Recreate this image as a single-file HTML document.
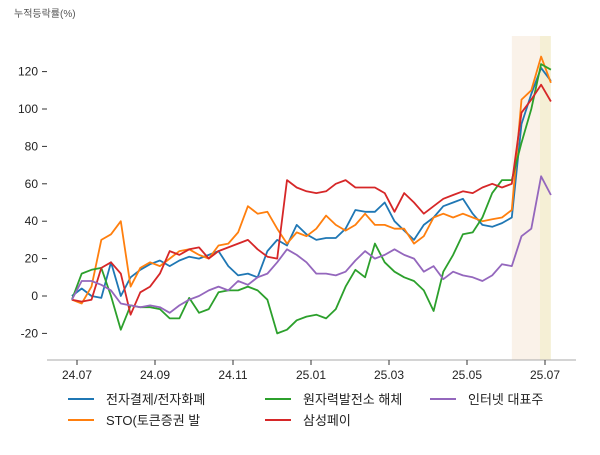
<!DOCTYPE html>
<html><head><meta charset="utf-8"><style>
body{margin:0;background:#fff;}
svg text{font-family:"Liberation Sans","Noto Sans CJK KR",sans-serif;}
</style></head><body>
<svg width="600" height="450" viewBox="0 0 600 450" xmlns="http://www.w3.org/2000/svg">
<text x="14" y="17" font-size="10" fill="#555">누적등락률(%)</text>
<g id="shade"></g>
<g id="axes"></g>
<g id="series"></g>
<g id="legend"></g>
</svg>
<script>
const xTickLabels=["24.07","24.09","24.11","25.01","25.03","25.05","25.07"];
const xTickMonths=[0,2,4,6,8,10,12];
const yTicks=[-20,0,20,40,60,80,100,120];
const seriesNames=["전자결제/전자화폐","STO(토큰증권 발","원자력발전소 해체","삼성페이","인터넷 대표주"];
const seriesColors=["#1f77b4","#ff7f0e","#2ca02c","#d62728","#9467bd"];
const blue=[0,4,0,-1,18,0,10,14,17,19,16,19,21,20,22,24,16,11,12,10,24,30,27,38,33,30,31,31,36,46,45,45,50,40,35,30,38,42,48,50,52,44,38,37,39,42,92,108,122,115];
const orange=[-2,-4,5,30,33,40,5,15,18,16,20,24,25,22,20,27,28,34,48,44,45,36,28,34,32,36,43,38,35,38,44,38,38,36,36,28,32,42,44,42,44,42,40,41,42,46,105,110,128,114];
const green=[-2,12,14,15,0,-18,-5,-6,-6,-7,-12,-12,-1,-9,-7,2,3,3,5,3,-2,-20,-18,-13,-11,-10,-12,-7,5,14,10,28,18,13,10,8,3,-8,13,22,33,34,42,55,62,62,82,100,124,121];
const red=[-2,-3,-2,15,18,12,-10,2,5,12,24,22,25,26,20,24,26,28,30,25,21,20,62,58,56,55,56,60,62,58,58,58,55,45,55,50,44,48,52,54,56,55,58,60,58,60,98,105,113,104];
const purple=[-2,8,8,6,3,-4,-5,-6,-5,-6,-9,-5,-2,0,3,5,3,8,6,10,12,18,25,22,18,12,12,11,13,19,24,20,22,25,22,20,13,16,9,13,11,10,8,11,17,16,32,36,64,54];
const startMonth=-0.13, endMonth=12.15;
const shadeStart=11.15, shadeMid=11.87;

const NS="http://www.w3.org/2000/svg";
const xS=m=>77+m*39;
const yS=v=>296-v*1.87;
function mk(tag,attrs,parent){const e=document.createElementNS(NS,tag);for(const k in attrs)e.setAttribute(k,attrs[k]);parent.appendChild(e);return e;}
const gShade=document.getElementById('shade'),gAx=document.getElementById('axes'),gS=document.getElementById('series'),gL=document.getElementById('legend');

let r=mk('rect',{x:xS(shadeStart),y:36,width:xS(shadeMid)-xS(shadeStart),height:324,fill:'#f9efe4',opacity:0.8},gShade);


r=mk('rect',{x:xS(shadeMid),y:36,width:xS(endMonth)-xS(shadeMid),height:324,fill:'#f5efd5'},gShade);



let l=mk('line',{x1:47,x2:576,y1:360,y2:360,stroke:'#aaa','stroke-width':1},gAx);


yTicks.forEach(v=>{
  const y=yS(v);
  let t=mk('line',{x1:42,x2:47,y1:y,y2:y,stroke:'#333'},gAx);
  
  
  let tx=mk('text',{x:38,y:y+4,'font-size':12,'text-anchor':'end',fill:'#222'},gAx);
  tx.textContent=v;
  
  
});
xTickMonths.forEach((m,i)=>{
  const x=xS(m);
  let t=mk('line',{x1:x,x2:x,y1:360,y2:365,stroke:'#333'},gAx);
  
  
  let tx=mk('text',{x:x,y:379,'font-size':12,'text-anchor':'middle',fill:'#222'},gAx);
  tx.textContent=xTickLabels[i];
  
  
});
const all=[blue,orange,green,red,purple];
all.forEach((arr,si)=>{
  const n=arr.length;
  const pts=arr.map((v,i)=>xS(startMonth+(endMonth-startMonth)*i/(n-1)).toFixed(1)+','+yS(v).toFixed(1)).join(' ');
  let p=mk('polyline',{points:pts,fill:'none',stroke:seriesColors[si],'stroke-width':1.8,'stroke-linejoin':'round'},gS);
  
  
});
const legPos=[[68,399],[68,420],[265,399],[265,420],[430,399]];
seriesNames.forEach((nm,i)=>{
  const [x,y]=legPos[i];
  let g=mk('g',{},gL);
  
  
  mk('line',{x1:x,x2:x+26,y1:y,y2:y,stroke:seriesColors[i],'stroke-width':2},g);
  let t=mk('text',{x:x+38,y:y+5,'font-size':13,fill:'#222'},g);
  t.textContent=nm;
});
</script>
</body></html>
